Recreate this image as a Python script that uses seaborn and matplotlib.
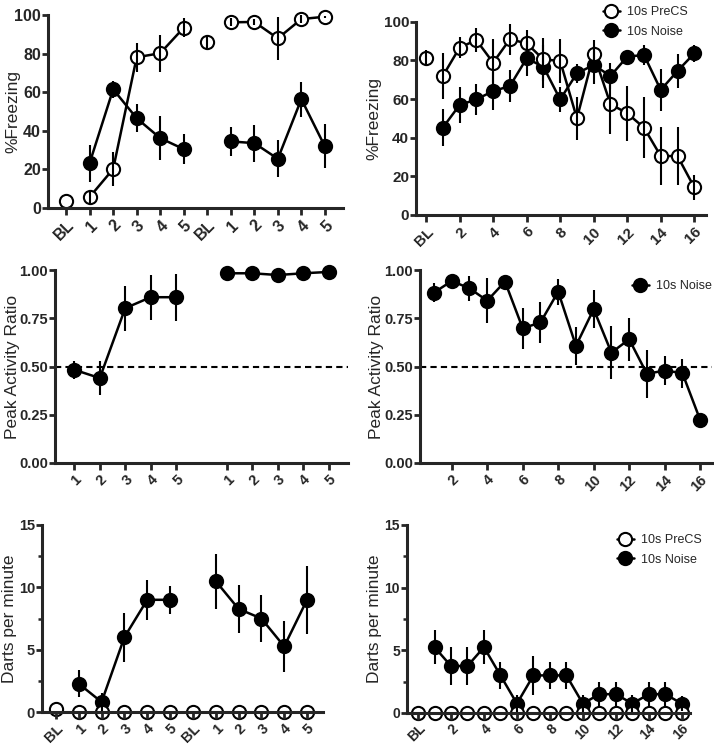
import numpy as np
import pandas as pd
import seaborn as sns
import matplotlib.pyplot as plt
from matplotlib.lines import Line2D
from matplotlib.ticker import MultipleLocator, FormatStrFormatter

# acquisition days: BL + 5 tones, twice
acq_labels = ['BL', '1', '2', '3', '4', '5', 'BL', '1', '2', '3', '4', '5']
acq_segs = [0, 1, 1, 1, 1, 1, 2, 3, 3, 3, 3, 3]
acq_frz_precs = [3.4, 5.7, 20.2, 78.1, 80.2, 93.4, 85.9, 96.2, 96.4, 87.9, 97.9, 99.1]
acq_frz_precs_err = [0, 3, 9, 7.6, 9.5, 4.8, 3, 2, 1.5, 11, 2, 0.5]
acq_frz_noise = [np.nan, 23.3, 61.5, 46.5, 36.2, 30.5, np.nan, 34.5, 33.6, 25.5, 56.4, 31.9]
acq_frz_noise_err = [0, 9.6, 4.5, 7.2, 11.3, 7.7, 0, 7.3, 9.6, 9.5, 9, 11.4]

# extinction: BL + 16 tones
ext_labels = ['BL'] + [str(i) for i in range(1, 17)]
ext_segs = [0] + [1] * 16
ext_frz_precs = [81.4, 71.9, 86.6, 90.5, 78.8, 90.9, 88.8, 80.5, 79.7, 50, 83.3, 57.4, 52.6, 45.2, 30.5, 30.5, 14.3]
ext_frz_precs_err = [3.9, 12.1, 5.6, 6, 12.2, 8, 6.9, 11, 11.4, 11.2, 7.3, 15.5, 14.2, 15.7, 15.1, 14.8, 6.3]
ext_frz_noise = [np.nan, 45.2, 56.9, 59.8, 64.1, 66.7, 81, 76.7, 59.8, 73.3, 77.6, 71.9, 81.9, 82.8, 64.7, 74.5, 83.6]
ext_frz_noise_err = [0, 9.5, 9.1, 8.2, 9.9, 8.2, 9.2, 11, 6.6, 5, 9.7, 6.7, 2.6, 5.1, 11, 9, 4.3]

# peak activity ratio
acq_ratio_labels = ['1', '2', '3', '4', '5', '', '1', '2', '3', '4', '5']
acq_ratio_segs = [1, 1, 1, 1, 1, 2, 3, 3, 3, 3, 3]
acq_ratio = [0.483, 0.44, 0.802, 0.859, 0.859, np.nan, 0.983, 0.983, 0.974, 0.983, 0.99]
acq_ratio_err = [0.048, 0.087, 0.116, 0.117, 0.122, 0, 0.01, 0.01, 0.01, 0.01, 0.01]

ext_ratio_labels = [str(i) for i in range(1, 17)]
ext_ratio_segs = [1] * 16
ext_ratio = [0.883, 0.943, 0.905, 0.841, 0.94, 0.698, 0.728, 0.888, 0.607, 0.797, 0.572, 0.641, 0.462, 0.479, 0.466, 0.224]
ext_ratio_err = [0.048, 0.015, 0.066, 0.115, 0.033, 0.106, 0.104, 0.067, 0.099, 0.098, 0.138, 0.11, 0.124, 0.075, 0.075, 0.01]

# darts per minute
acq_darts_precs = [0.24, 0, 0, 0, 0, 0, 0, 0, 0, 0, 0, 0]
acq_darts_noise = [np.nan, 2.27, 0.8, 6.0, 9.0, 9.0, np.nan, 10.5, 8.27, 7.5, 5.26, 9.0]
acq_darts_noise_err = [0, 1.07, 0.7, 1.95, 1.6, 1.1, 0, 2.2, 1.9, 1.9, 2.05, 2.75]

ext_darts_precs = [0] * 17
ext_darts_noise = [np.nan, 5.25, 3.75, 3.75, 5.25, 3.0, 0.75, 3.0, 3.0, 3.0, 0.75, 1.5, 1.5, 0.75, 1.5, 1.5, 0.75]
ext_darts_noise_err = [0, 1.35, 1.55, 1.55, 1.35, 1.1, 0.7, 1.55, 1.1, 1.1, 0.7, 1.0, 1.0, 0.7, 1.0, 1.0, 0.6]

sns.set_style('ticks')
plt.rcParams['font.family'] = ['Liberation Sans', 'DejaVu Sans']

W, H = 714, 748
fig = plt.figure(figsize=(W / 100, H / 100), dpi=100)


def make_axes(l, r, t, b):
    return fig.add_axes([l / W, 1 - b / H, (r - l) / W, (b - t) / H])


def draw_series(ax, vals, errs, segs, filled):
    df = pd.DataFrame({'x': np.arange(len(vals)), 'y': vals, 'err': errs, 'seg': segs}).dropna()
    sns.lineplot(data=df, x='x', y='y', units='seg', estimator=None, ax=ax,
                 color='black', lw=1.8, marker='o', markersize=9.5,
                 markerfacecolor='black' if filled else 'white',
                 markeredgecolor='black', markeredgewidth=1.5,
                 clip_on=False, zorder=2, legend=False)
    ax.errorbar(df['x'], df['y'], yerr=df['err'], fmt='none', ecolor='black',
                elinewidth=1.5, capsize=0, clip_on=False, zorder=2.2)


def style_axes(ax, labels, shown, xlim, ylim, ystep, ylabel, label_x,
               fs=10.5, minor=None, fmt=None, xpad=2):
    ax.set_xlim(*xlim)
    ax.set_ylim(*ylim)
    pos = [i for i, s in enumerate(labels) if (shown == 'all' or s in shown) and s != '']
    ax.set_xticks(pos)
    ax.set_xticklabels([labels[i] for i in pos], rotation=45, ha='right',
                       rotation_mode='anchor', fontweight='bold', fontsize=fs)
    ax.yaxis.set_major_locator(MultipleLocator(ystep))
    if minor:
        ax.yaxis.set_minor_locator(MultipleLocator(minor))
        ax.tick_params(axis='y', which='minor', length=3, width=1.8)
    if fmt:
        ax.yaxis.set_major_formatter(FormatStrFormatter(fmt))
    for lab in ax.get_yticklabels():
        lab.set_fontweight('bold')
        lab.set_fontsize(fs)
    ax.tick_params(axis='x', which='major', length=5, width=2, pad=xpad)
    ax.tick_params(axis='y', which='major', length=4, width=2, pad=1)
    ax.set_xlabel('')
    ax.set_ylabel(ylabel, fontsize=12.5)
    # label anchor given in figure pixels, like the reference layout
    x0 = ax.get_position().x0 * W
    ax.yaxis.set_label_coords((label_x - x0) / (ax.get_position().width * W), 0.5)
    sns.despine(ax=ax)
    for side in ['left', 'bottom']:
        ax.spines[side].set_linewidth(2.2)
    ax.set_axisbelow(False)


def add_legend(ax, entries, x, y):
    handles = [Line2D([], [], color='black', lw=1.8, marker='o', markersize=9.5,
                      markerfacecolor=fc, markeredgecolor='black', markeredgewidth=1.5)
               for fc in entries.values()]
    ax.legend(handles, list(entries.keys()), loc='upper left', frameon=False,
              bbox_to_anchor=(x / W, 1 - y / H), bbox_transform=fig.transFigure,
              borderpad=0, handlelength=1.3, handletextpad=0.6, labelspacing=0.6,
              fontsize=9)


even = [str(i) for i in range(2, 17, 2)]

# A: acquisition freezing
ax = make_axes(48, 343, 15, 208)
draw_series(ax, acq_frz_noise, acq_frz_noise_err, acq_segs, True)
draw_series(ax, acq_frz_precs, acq_frz_precs_err, acq_segs, False)
style_axes(ax, acq_labels, 'all', (-0.77, 11.77), (0, 100), 20, '%Freezing', 20, fs=11.5)

# B: extinction freezing
ax = make_axes(416, 706, 21.7, 215)
draw_series(ax, ext_frz_noise, ext_frz_noise_err, ext_segs, True)
draw_series(ax, ext_frz_precs, ext_frz_precs_err, ext_segs, False)
style_axes(ax, ext_labels, ['BL'] + even, (-0.6, 16.7), (0, 100), 20, '%Freezing', 381, fs=11)
add_legend(ax, {'10s PreCS': 'white', '10s Noise': 'black'}, 597, 0)

# C: acquisition peak ratio
ax = make_axes(55, 348, 270, 463)
ax.axhline(0.5, color='black', lw=1.5, ls=(0, (3, 2)), zorder=1)
draw_series(ax, acq_ratio, acq_ratio_err, acq_ratio_segs, True)
style_axes(ax, acq_ratio_labels, 'all', (-0.76, 10.76), (0, 1), 0.25,
           'Peak Activity Ratio', 20, fmt='%.2f')

# D: extinction peak ratio
ax = make_axes(420, 712, 270, 463)
ax.axhline(0.5, color='black', lw=1.5, ls=(0, (3, 2)), zorder=1)
draw_series(ax, ext_ratio, ext_ratio_err, ext_ratio_segs, True)
style_axes(ax, ext_ratio_labels, even, (-0.79, 15.67), (0, 1), 0.25,
           'Peak Activity Ratio', 384, fmt='%.2f')
add_legend(ax, {'10s Noise': 'black'}, 626, 274)

# E: acquisition darts
ax = make_axes(42, 323, 525, 712)
draw_series(ax, acq_darts_noise, acq_darts_noise_err, acq_segs, True)
draw_series(ax, acq_darts_precs, [0] * 12, acq_segs, False)
style_axes(ax, acq_labels, 'all', (-0.61, 11.7), (0, 15), 5, 'Darts per minute', 17, minor=2.5)

# F: extinction darts
ax = make_axes(407, 690, 525, 713)
draw_series(ax, ext_darts_noise, ext_darts_noise_err, ext_segs, True)
draw_series(ax, ext_darts_precs, [0] * 17, ext_segs, False)
style_axes(ax, ext_labels, ['BL'] + even, (-0.67, 16.5), (0, 15), 5, 'Darts per minute', 382,
           fs=10, minor=2.5, xpad=1)
add_legend(ax, {'10s PreCS': 'white', '10s Noise': 'black'}, 611, 528)

fig.savefig('out.png', dpi=100)
